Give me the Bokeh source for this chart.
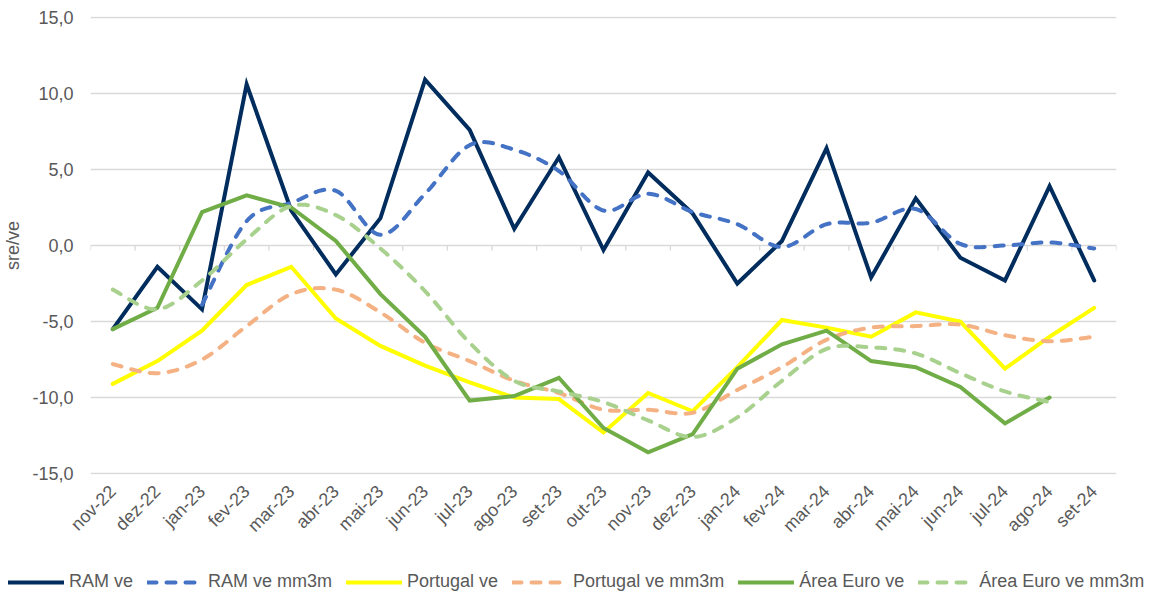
import numpy as np
from bokeh.plotting import figure
from bokeh.layouts import column
from bokeh.models import (Range1d, FixedTicker, Legend, LegendItem,
                          CustomJSTickFormatter)
from bokeh.embed import file_html
from bokeh.resources import INLINE

categories = ["nov-22", "dez-22", "jan-23", "fev-23", "mar-23", "abr-23", "mai-23",
              "jun-23", "jul-23", "ago-23", "set-23", "out-23", "nov-23", "dez-23",
              "jan-24", "fev-24", "mar-24", "abr-24", "mai-24", "jun-24", "jul-24",
              "ago-24", "set-24"]

nan = float("nan")
ram_ve = [-5.5, -1.4, -4.2, 10.6, 2.3, -1.9, 1.8, 10.9, 7.6, 1.1, 5.8, -0.3, 4.8, 2.1,
          -2.5, 0.3, 6.4, -2.1, 3.1, -0.8, -2.3, 3.9, -2.3]
ram_mm3m = [nan, nan, -3.9, 1.6, 2.8, 3.6, 0.7, 3.4, 6.6, 6.3, 4.9, 2.3, 3.4, 2.2,
            1.4, -0.1, 1.4, 1.5, 2.4, 0.1, 0.0, 0.2, -0.2]
pt_ve = [-9.1, -7.6, -5.6, -2.6, -1.4, -4.8, -6.6, -7.9, -9.0, -10.0, -10.1, -12.3,
         -9.7, -10.9, -8.0, -4.9, -5.4, -6.0, -4.4, -5.0, -8.1, -6.0, -4.1]
pt_mm3m = [-7.8, -8.4, -7.5, -5.3, -3.2, -2.9, -4.4, -6.4, -7.6, -8.9, -9.7, -10.8,
           -10.8, -11.0, -9.5, -8.0, -6.2, -5.4, -5.3, -5.2, -5.9, -6.3, -6.0]
ae_ve = [-5.5, -4.1, 2.2, 3.3, 2.5, 0.3, -3.2, -6.0, -10.2, -9.9, -8.7, -12.0, -13.6,
         -12.4, -8.1, -6.5, -5.6, -7.6, -8.0, -9.3, -11.7, -10.0, nan]
ae_mm3m = [-2.9, -4.2, -2.3, 0.4, 2.6, 2.0, -0.2, -3.0, -6.4, -8.9, -9.6, -10.3, -11.5,
           -12.6, -11.3, -8.9, -6.8, -6.7, -7.1, -8.4, -9.6, -10.3, nan]

series_names = ["RAM ve", "RAM ve mm3m", "Portugal ve", "Portugal ve mm3m",
                "Área Euro ve", "Área Euro ve mm3m"]
series_values = [ram_ve, ram_mm3m, pt_ve, pt_mm3m, ae_ve, ae_mm3m]
series_colors = ["#002D5E", "#4472C4", "#FFFF00", "#F4B183", "#70AD47", "#A9D18E"]
series_dashed = [False, True, False, True, False, True]

FONT = "Liberation Sans"
TXT = "#595959"


def smooth(xs, ys, n=16):
    """Excel-like smoothed line (Bezier with 1/6 tangents) through the points."""
    xs = np.asarray(xs, float)
    ys = np.asarray(ys, float)
    ok = ~np.isnan(ys)
    out_x, out_y = [], []
    idx = np.where(ok)[0]
    runs = np.split(idx, np.where(np.diff(idx) != 1)[0] + 1)
    for run in runs:
        if len(run) < 2:
            continue
        px, py = xs[run], ys[run]
        m = len(px)
        for i in range(m - 1):
            p0 = (px[max(i - 1, 0)], py[max(i - 1, 0)])
            p1 = (px[i], py[i])
            p2 = (px[i + 1], py[i + 1])
            p3 = (px[min(i + 2, m - 1)], py[min(i + 2, m - 1)])
            c1 = (p1[0] + (p2[0] - p0[0]) / 6, p1[1] + (p2[1] - p0[1]) / 6)
            c2 = (p2[0] - (p3[0] - p1[0]) / 6, p2[1] - (p3[1] - p1[1]) / 6)
            t = np.linspace(0, 1, n, endpoint=(i == m - 2))
            a = (1 - t) ** 3
            b = 3 * (1 - t) ** 2 * t
            c = 3 * (1 - t) * t ** 2
            d = t ** 3
            out_x += [float(v) for v in (a * p1[0] + b * c1[0] + c * c2[0] + d * p2[0])]
            out_y += [float(v) for v in (a * p1[1] + b * c1[1] + c * c2[1] + d * p2[1])]
    return out_x, out_y


xpos = list(range(len(categories)))

p = figure(width=1158, height=569, output_backend="svg", toolbar_location=None,
           x_range=Range1d(-0.5, len(categories) - 0.5),
           y_range=Range1d(-15.06, 15.06),
           min_border_left=89, min_border_right=42, min_border_top=16,
           min_border_bottom=95)
p.outline_line_color = None
p.background_fill_color = "white"
p.border_fill_color = "white"

# grid
p.xgrid.visible = False
p.ygrid.ticker = FixedTicker(ticks=[-15, -10, -5, 0, 5, 10, 15])
p.ygrid.grid_line_color = "#D9D9D9"
p.ygrid.grid_line_width = 1.3

# y axis
p.yaxis.ticker = FixedTicker(ticks=[-15, -10, -5, 0, 5, 10, 15])
p.yaxis.formatter = CustomJSTickFormatter(code="return tick.toFixed(1).replace('.', ',');")
p.yaxis.axis_line_color = None
p.yaxis.major_tick_line_color = None
p.yaxis.minor_tick_line_color = None
p.yaxis.major_tick_out = 0
p.yaxis.major_tick_in = 0
p.yaxis.minor_tick_out = 0
p.yaxis.major_label_text_font = FONT
p.yaxis.major_label_text_font_size = "18px"
p.yaxis.major_label_text_color = TXT
p.yaxis.major_label_standoff = 17
p.yaxis.axis_label = "sre/ve"
p.yaxis.axis_label_text_font = FONT
p.yaxis.axis_label_text_font_size = "18px"
p.yaxis.axis_label_text_font_style = "normal"
p.yaxis.axis_label_text_color = TXT
p.yaxis.axis_label_standoff = 6

# x axis
p.xaxis.ticker = FixedTicker(ticks=xpos)
p.xaxis.formatter = CustomJSTickFormatter(args=dict(labels=categories),
                                          code="return labels[Math.round(tick)] || '';")
p.xaxis.axis_line_color = None
p.xaxis.major_tick_line_color = None
p.xaxis.minor_tick_line_color = None
p.xaxis.major_tick_out = 0
p.xaxis.major_tick_in = 0
p.xaxis.minor_tick_out = 0
p.xaxis.major_label_orientation = np.pi / 4
p.xaxis.major_label_text_font = FONT
p.xaxis.major_label_text_font_size = "18px"
p.xaxis.major_label_text_color = TXT
p.xaxis.major_label_standoff = 14

# category-boundary tick marks on the zero line
bounds = [i - 0.5 for i in range(len(categories) + 1)]
p.segment(x0=bounds, y0=[0] * len(bounds), x1=bounds, y1=[-0.33] * len(bounds),
          line_color="#D9D9D9", line_width=1.3)

# legend strip (separate figure holding legend-only glyph copies)
lg = figure(width=1158, height=24, output_backend="svg", toolbar_location=None,
            x_range=Range1d(0, 1), y_range=Range1d(0, 1),
            x_axis_location=None, y_axis_location=None,
            min_border_left=0, min_border_right=0, min_border_top=0,
            min_border_bottom=0)
lg.outline_line_color = None
lg.xgrid.visible = False
lg.ygrid.visible = False

for fig in (p, lg):
    try:
        fig.frame_align = False
    except Exception:
        pass

items = []
for name, vals, col, dashed in zip(series_names, series_values, series_colors, series_dashed):
    if dashed:
        sx, sy = smooth(xpos, vals)
        p.line(sx, sy, line_color=col, line_width=4, line_dash="9 10",
               line_cap="round", line_join="round")
        r = lg.line(x=[nan], y=[nan], line_color=col, line_width=4, line_dash="9 10",
                    line_cap="round")
    else:
        p.line(xpos, vals, line_color=col, line_width=4, line_cap="round",
               line_join="miter")
        r = lg.line(x=[nan], y=[nan], line_color=col, line_width=4, line_cap="round")
    items.append(LegendItem(label=name, renderers=[r]))

legend = Legend(items=items, orientation="horizontal", location=(8, 1),
                label_text_font=FONT, label_text_font_size="18px",
                label_text_color=TXT, glyph_width=56, label_standoff=5, spacing=14,
                label_height=20, glyph_height=20,
                border_line_color=None, background_fill_alpha=0,
                padding=0, margin=0)
lg.add_layout(legend, "center")

layout = column(p, lg, spacing=0)
open("out.html", "w").write(file_html(layout, INLINE))
